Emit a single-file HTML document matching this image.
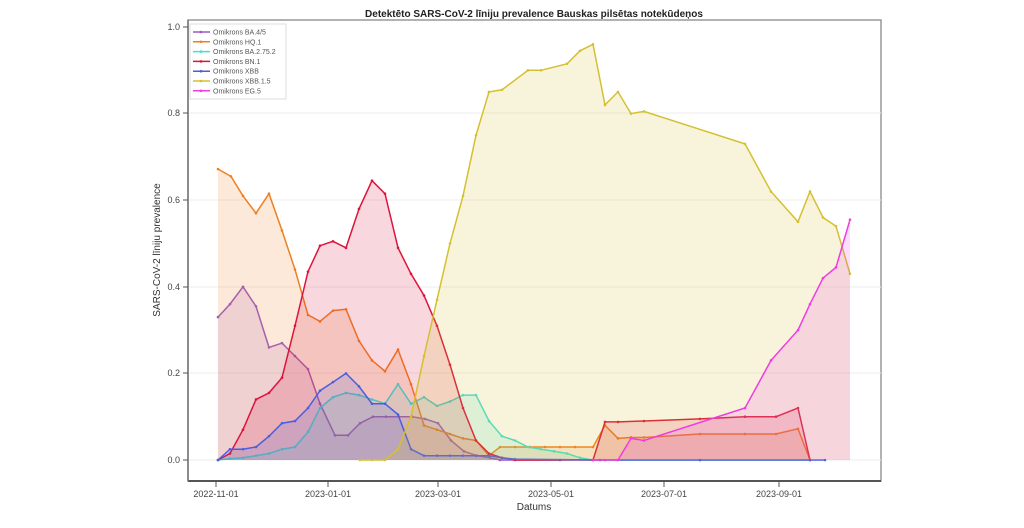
<!DOCTYPE html><html><head><style>body{margin:0;background:#fff}svg{display:block;font-family:"Liberation Sans",sans-serif}</style></head><body>
<svg id="s" width="1024" height="528" xmlns="http://www.w3.org/2000/svg">
<rect x="188" y="20" width="693" height="461" fill="none" stroke="#999" stroke-width="1.5"/>
<g stroke="#eee" stroke-width="1"><line x1="188" x2="881" y1="113" y2="113"/><line x1="188" x2="881" y1="200" y2="200"/><line x1="188" x2="881" y1="287" y2="287"/><line x1="188" x2="881" y1="373" y2="373"/><line x1="188" x2="881" y1="460" y2="460"/></g>
<line x1="188" x2="881" y1="481" y2="481" stroke="#555" stroke-width="2"/>
<line x1="188" x2="188" y1="20" y2="481" stroke="#777" stroke-width="1.5"/>
<g font-size="9" fill="#444" text-anchor="end">
<text x="180" y="463">0.0</text><text x="180" y="376">0.2</text><text x="180" y="290">0.4</text><text x="180" y="203">0.6</text><text x="180" y="116">0.8</text><text x="180" y="30">1.0</text></g>
<g stroke="#555"><line x1="183" x2="188" y1="460" y2="460"/><line x1="183" x2="188" y1="373" y2="373"/><line x1="183" x2="188" y1="287" y2="287"/><line x1="183" x2="188" y1="200" y2="200"/><line x1="183" x2="188" y1="113" y2="113"/><line x1="183" x2="188" y1="27" y2="27"/></g>
<g font-size="9" fill="#444" text-anchor="middle">
<text x="216" y="497">2022-11-01</text><text x="328" y="497">2023-01-01</text><text x="438" y="497">2023-03-01</text><text x="551" y="497">2023-05-01</text><text x="664" y="497">2023-07-01</text><text x="779" y="497">2023-09-01</text></g>
<g stroke="#555"><line x1="216" x2="216" y1="481" y2="487"/><line x1="328" x2="328" y1="481" y2="487"/><line x1="438" x2="438" y1="481" y2="487"/><line x1="551" x2="551" y1="481" y2="487"/><line x1="664" x2="664" y1="481" y2="487"/><line x1="779" x2="779" y1="481" y2="487"/></g>
<text x="534" y="510" font-size="10" text-anchor="middle" fill="#333">Datums</text>
<text transform="translate(160,250) rotate(-90)" font-size="10" text-anchor="middle" fill="#333">SARS-CoV-2 līniju prevalence</text>
<text x="534" y="17" font-size="10" font-weight="bold" text-anchor="middle" fill="#222">Detektēto SARS-CoV-2 līniju prevalence Bauskas pilsētas notekūdeņos</text>
<g id="d"></g>
<rect x="190" y="24" width="96" height="75" fill="#fff" fill-opacity="0.85" stroke="#ddd"/>
<g id="lg" font-size="7" fill="#555"></g>
</svg>
<script>
const S=[
["Omikrons BA.4/5","#9b59c6",[[218,.33],[230,.36],[243,.40],[256,.355],[269,.26],[282,.27],[295,.24],[308,.21],[320,.13],[335,.057],[348,.057],[360,.085],[373,.10],[386,.10],[399,.10],[412,.10],[425,.095],[438,.085],[451,.045],[464,.02],[477,.01],[490,.005],[500,0],[560,0]]],
["Omikrons HQ.1","#f07f20",[[218,.672],[231,.655],[243,.61],[256,.57],[269,.615],[282,.53],[295,.44],[308,.335],[320,.32],[333,.345],[346,.348],[359,.275],[372,.23],[385,.205],[398,.255],[411,.175],[424,.08],[437,.07],[450,.06],[463,.05],[476,.045],[489,.01],[500,.03],[515,.03],[530,.03],[545,.03],[560,.03],[575,.03],[593,.03],[605,.08],[618,.05],[631,.052],[644,.052],[700,.06],[745,.06],[776,.06],[798,.072],[810,0]]],
["Omikrons BA.2.75.2","#40e0d0",[[218,0],[230,.003],[243,.005],[256,.01],[269,.015],[282,.025],[295,.03],[308,.065],[320,.12],[333,.145],[346,.155],[359,.15],[372,.14],[385,.13],[398,.175],[411,.13],[424,.145],[437,.125],[450,.135],[463,.15],[476,.15],[489,.09],[502,.055],[515,.045],[528,.03],[541,.025],[554,.02],[567,.015],[580,.005],[593,0],[700,0],[810,0]]],
["Omikrons BN.1","#dc143c",[[218,0],[230,.015],[243,.07],[256,.14],[269,.155],[282,.19],[295,.31],[308,.435],[320,.495],[333,.505],[346,.49],[359,.58],[372,.645],[385,.615],[398,.49],[411,.43],[424,.38],[437,.31],[450,.22],[463,.12],[476,.045],[489,.015],[502,.005],[515,0],[593,0],[605,.088],[618,.088],[644,.09],[700,.095],[745,.1],[776,.1],[798,.12],[810,0]]],
["Omikrons XBB","#4a5fe0",[[218,0],[230,.025],[243,.025],[256,.03],[269,.055],[282,.085],[295,.09],[308,.12],[320,.16],[333,.18],[346,.20],[359,.17],[372,.13],[385,.13],[398,.105],[411,.025],[424,.01],[437,.01],[450,.01],[463,.01],[476,.01],[489,.01],[502,.005],[515,.002],[600,0],[700,0],[825,0]]],
["Omikrons XBB.1.5","#d4c030",[[360,0],[372,0],[385,0],[398,.025],[411,.1],[424,.24],[437,.37],[450,.50],[463,.61],[476,.75],[489,.85],[502,.855],[528,.9],[541,.9],[567,.915],[580,.945],[593,.96],[605,.82],[618,.85],[631,.80],[644,.805],[745,.73],[771,.62],[798,.55],[810,.62],[823,.56],[836,.54],[850,.43]]],
["Omikrons EG.5","#f03ce0",[[593,0],[605,0],[618,0],[631,.05],[644,.045],[745,.12],[771,.23],[798,.30],[810,.36],[823,.42],[836,.445],[850,.555]]]];
const Y=v=>460-v*433;let h="",l="";
S.forEach((s,i)=>{const p=s[2].map(a=>a[0]+","+Y(a[1]).toFixed(1)).join(" ");
h+=`<polygon points="${s[2][0][0]},460 ${p} ${s[2][s[2].length-1][0]},460" fill="${s[1]}" fill-opacity="0.17"/>`;
h+=`<polyline points="${p}" fill="none" stroke="${s[1]}" stroke-width="1.5"/>`;
s[2].forEach(a=>h+=`<circle cx="${a[0]}" cy="${Y(a[1])}" r="1.3" fill="${s[1]}"/>`);
const y=32+i*9.8;l+=`<line x1="193" x2="210" y1="${y}" y2="${y}" stroke="${s[1]}" stroke-width="1.5"/><circle cx="201" cy="${y}" r="1.3" fill="${s[1]}"/><text x="213" y="${y+2.5}">${s[0]}</text>`;});
document.getElementById("d").innerHTML=h;document.getElementById("lg").innerHTML=l;
</script></body></html>
